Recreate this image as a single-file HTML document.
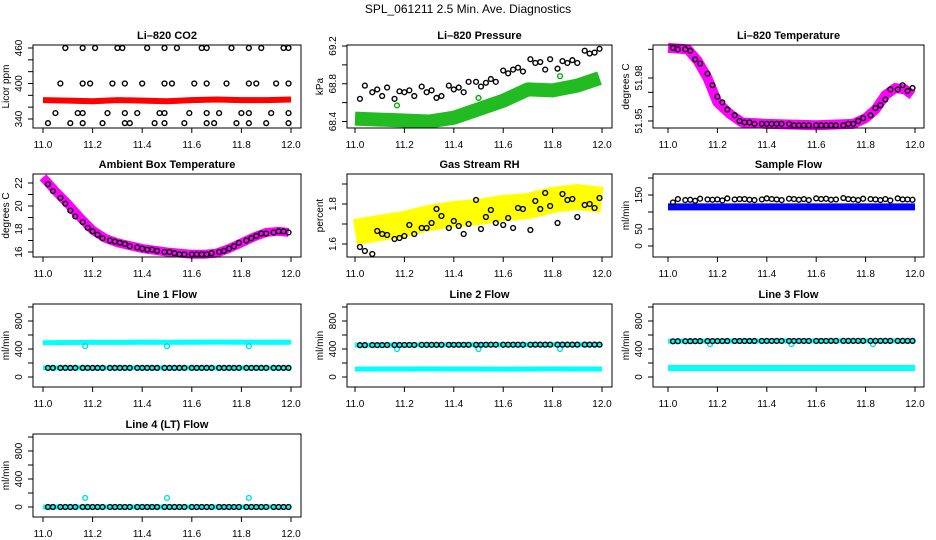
<!DOCTYPE html>
<html><head><meta charset="utf-8"><style>
body{margin:0;background:#fff}
svg{display:block;font-family:"Liberation Sans",Arial,sans-serif}
</style></head><body>
<svg id="c" width="936" height="540" viewBox="0 0 936 540" xmlns="http://www.w3.org/2000/svg">
<rect width="936" height="540" fill="#fff"/>
<text x="468" y="13" text-anchor="middle" font-size="12">SPL_061211  2.5 Min. Ave. Diagnostics</text>
</svg>
<script>
// shared time grid for black points
const T = [11.02,11.04,11.07,11.09,11.11,11.13,11.16,11.18,11.20,11.22,11.24,11.27,11.29,11.31,11.33,11.35,11.38,11.40,11.42,11.44,11.46,11.49,11.51,11.53,11.55,11.57,11.60,11.62,11.64,11.66,11.68,11.71,11.73,11.75,11.77,11.79,11.82,11.84,11.86,11.88,11.90,11.93,11.95,11.97,11.99];
const xTicks = [11.0,11.2,11.4,11.6,11.8,12.0];
const xTickLabels = ["11.0","11.2","11.4","11.6","11.8","12.0"];
// CO2
const co2Times = [11.09,11.16,11.21,11.30,11.32,11.42,11.49,11.54,11.64,11.66,11.76,11.83,11.88,11.97,11.99, 11.07,11.16,11.19,11.28,11.33,11.40,11.49,11.52,11.61,11.66,11.74,11.83,11.86,11.94,11.99, 11.05,11.14,11.16,11.26,11.33,11.38,11.47,11.49,11.59,11.66,11.71,11.80,11.83,11.92,11.99, 11.02,11.11,11.16,11.24,11.33,11.35,11.45,11.49,11.57,11.66,11.69,11.78,11.83,11.90,11.99];
const co2Vals = [460,460,460,460,460,460,460,460,460,460,460,460,460,460,460, 400,400,400,400,400,400,400,400,400,400,400,400,400,400,400, 350,350,350,350,350,350,350,350,350,350,350,350,350,350,350, 333,333,333,333,333,333,333,333,333,333,333,333,333,333,333];
const bandTimes = [11.0,11.1,11.2,11.3,11.4,11.5,11.6,11.7,11.8,11.9,12.0];
const co2Red = [372,371,370,372,371,370,372,373,372,372,373];
// Pressure
const presBlack = [68.64,68.78,68.71,68.74,68.67,68.76,68.64,68.72,68.71,68.73,68.67,68.77,68.71,68.73,68.65,68.67,68.78,68.74,68.76,68.71,68.82,68.82,68.77,68.81,68.85,68.82,68.94,68.91,68.95,68.97,68.93,69.06,69.02,69.03,68.95,69.06,68.96,69.04,69.02,69.05,69.02,69.15,69.12,69.13,69.17];
const presGreenTimes = [11.0,11.1,11.2,11.3,11.4,11.5,11.6,11.7,11.8,11.9,11.99];
const presGreen = [68.43,68.42,68.41,68.40,68.44,68.53,68.62,68.74,68.73,68.78,68.86];
const presOutT = [11.17,11.5,11.83];
const presOut = [68.57,68.65,68.88];
// Li-820 temperature
const tempBandTimes = [11.0,11.08,11.12,11.16,11.2,11.25,11.3,11.4,11.6,11.75,11.8,11.84,11.88,11.92,11.96,11.99];
const tempMag = [52.001,52.0,51.992,51.980,51.963,51.955,51.949,51.948,51.947,51.948,51.952,51.958,51.968,51.973,51.972,51.968];
const tempBlack = [52.001,52.0,52.0,51.999,51.993,51.990,51.983,51.975,51.967,51.963,51.958,51.954,51.950,51.949,51.949,51.948,51.948,51.948,51.948,51.948,51.948,51.948,51.947,51.947,51.947,51.947,51.947,51.947,51.947,51.947,51.947,51.947,51.948,51.948,51.950,51.952,51.954,51.959,51.961,51.965,51.972,51.972,51.975,51.971,51.973];
// Ambient
const ambBandTimes = [11.0,11.05,11.1,11.15,11.2,11.25,11.3,11.4,11.5,11.6,11.65,11.7,11.75,11.8,11.85,11.9,11.95,11.99];
const ambMag = [22.5,21.3,20.2,19.0,17.9,17.2,16.8,16.3,16.0,15.8,15.8,15.9,16.3,16.8,17.3,17.7,17.8,17.7];
const ambBlack = [21.9,21.3,20.7,20.2,19.6,19.1,18.6,18.1,17.8,17.5,17.2,17.0,16.9,16.8,16.7,16.5,16.4,16.3,16.2,16.2,16.1,16.0,16.0,15.9,15.8,15.8,15.8,15.8,15.8,15.8,15.9,16.0,16.1,16.3,16.5,16.8,17.0,17.2,17.4,17.6,17.6,17.7,17.8,17.8,17.7];
// RH
const rhYellow = [1.66,1.68,1.70,1.73,1.75,1.76,1.78,1.79,1.82,1.835,1.82];
const rhBlack = [1.585,1.565,1.55,1.665,1.65,1.645,1.625,1.63,1.64,1.695,1.65,1.68,1.68,1.705,1.775,1.74,1.68,1.715,1.69,1.65,1.70,1.82,1.675,1.735,1.77,1.705,1.695,1.73,1.68,1.78,1.775,1.67,1.815,1.775,1.855,1.79,1.705,1.85,1.82,1.825,1.735,1.795,1.80,1.78,1.83];
// Sample flow
const sampleBlue = [115,115,115,115,115,115,115,115,115,115,115];
const sampleBlack = [128,138,135,136,133,139,137,136,137,134,140,137,138,138,136,135,137,140,138,137,135,139,138,136,138,135,140,138,139,136,137,141,138,137,135,139,138,137,135,138,134,140,137,137,136];
// Line flows
const line1Cyan = [490,492,495,495,496,494,497,498,497,495,496];
const line1Low = [130,130,130,130,130,130,130,130,130,130,130];
const line1Black = [130,130,130,130,130,130,130,130,130,130,130,130,130,130,130,130,130,130,130,130,130,130,130,130,130,130,130,130,130,130,130,130,130,130,130,130,130,130,130,130,130,130,130,130,130];
const line2Cyan = [112,114,115,116,114,115,113,115,116,115,114];
const line2High = [455,456,458,459,460,460,461,461,462,462,462];
const line2Black = [455,455,456,456,456,457,457,457,458,458,458,459,459,459,459,460,460,460,460,460,460,460,460,461,461,461,461,461,461,461,461,461,462,462,462,462,462,462,462,462,462,462,462,462,462];
const line3Cyan = [128,128,128,128,128,128,128,128,128,128,128];
const line3High = [510,512,513,514,515,515,515,516,516,516,516];
const line3Black = [510,511,511,512,512,512,513,513,513,513,514,514,514,514,514,514,515,515,515,515,515,515,515,515,515,515,515,515,515,516,516,516,516,516,516,516,516,516,516,516,516,516,516,516,516];
const line4Cyan = [0,0,0,0,0,0,0,0,0,0,0];
const line4Black = [0,0,0,0,0,0,0,0,0,0,0,0,0,0,0,0,0,0,0,0,0,0,0,0,0,0,0,0,0,0,0,0,0,0,0,0,0,0,0,0,0,0,0,0,0];
const flowOutT = [11.17,11.5,11.83];
const line1Out = [440,440,440];
const line2Out = [400,400,400];
const line3Out = [470,470,470];
const line4Out = [130,130,130];

const NS = "http://www.w3.org/2000/svg";
const svg = document.getElementById('c');
function mk(tag, attrs, parent){const e=document.createElementNS(NS,tag);for(const k in attrs)e.setAttribute(k,attrs[k]);(parent||svg).appendChild(e);return e;}

function panel(name, title, ytitle, box, x11, x12, yRef, yTicks, yLabels){
  const g = mk('g',{});
  
  
  const sx = t => x11 + (t-11)*(x12-x11);
  const sy = v => yRef[1] + (v-yRef[0])*(yRef[3]-yRef[1])/(yRef[2]-yRef[0]);
  const plot = mk('g',{},g);
  
  
  const bx = mk('rect',{x:box[0],y:box[1],width:box[2]-box[0],height:box[3]-box[1],fill:'none',stroke:'#000','stroke-width':1},g);
  
  
  const tt = mk('text',{x:(box[0]+box[2])/2,y:box[1]-6,'text-anchor':'middle','font-size':11,'font-weight':'bold'},g);
  tt.textContent = title;
  
  
  const xa = mk('g',{},g);
  
  
  xTicks.forEach((t,i)=>{
    mk('line',{x1:sx(t),x2:sx(t),y1:box[3],y2:box[3]+5,stroke:'#000'},xa);
    const l = mk('text',{x:sx(t),y:box[3]+20,'text-anchor':'middle','font-size':10},xa);
    l.textContent = xTickLabels[i];
  });
  const ya = mk('g',{},g);
  
  
  yTicks.forEach(v=>{ mk('line',{x1:box[0]-5,x2:box[0],y1:sy(v),y2:sy(v),stroke:'#000'},ya); });
  yLabels.forEach(v=>{
    const lx = box[0]-11;
    const l = mk('text',{x:lx,y:sy(v),'text-anchor':'middle','font-size':10,transform:`rotate(-90 ${lx} ${sy(v)})`},ya);
    l.textContent = String(v);
  });
  const ytx = box[0]-24;
  const yt = mk('text',{x:ytx,y:(box[1]+box[3])/2,'text-anchor':'middle','font-size':10,transform:`rotate(-90 ${ytx} ${(box[1]+box[3])/2})`},g);
  yt.textContent = ytitle;
  
  
  return {sx,sy,plot};
}
function band(p, times, vals, color, w, nm){
  const pl = mk('polyline',{points:times.map((t,i)=>p.sx(t)+','+p.sy(vals[i])).join(' '),fill:'none',stroke:color,'stroke-width':w,'stroke-linejoin':'round','stroke-linecap':'butt'},p.plot);
  
  
}
function pts(p, times, vals, color, nm){
  const g = mk('g',{},p.plot);
  
  
  times.forEach((t,i)=>{ mk('circle',{cx:p.sx(t),cy:p.sy(vals[i]),r:2.4,fill:'none',stroke:color,'stroke-width':1.4},g); });
}
const C1=[33,301,43,291], C2=[347,612,355,602], C3=[653,924,668,915];
const R1=[45,128], R2=[174,257], R3=[304,387], R4=[434,517];

let p = panel('co2-panel','Li\u2013820 CO2','Licor ppm',[C1[0],R1[0],C1[1],R1[1]],C1[2],C1[3],[340,119,460,48],[340,360,380,400,420,440,460],[340,400,460]);
band(p,bandTimes,co2Red,'#ff0000',6,'co2-red-series');
pts(p,co2Times,co2Vals,'#000','co2-black-points');

p = panel('pressure-panel','Li\u2013820 Pressure','kPa',[C2[0],R1[0],C2[1],R1[1]],C2[2],C2[3],[68.4,121.5,69.2,46],[68.4,68.6,68.8,69.0,69.2],[68.4,68.8,69.2]);
band(p,presGreenTimes,presGreen,'#22bb22',14,'pressure-green-series');
pts(p,presOutT,presOut,'#00b000','pressure-green-outliers');
pts(p,T,presBlack,'#000','pressure-black-points');

p = panel('temperature-panel','Li\u2013820 Temperature','degrees C',[C3[0],R1[0],C3[1],R1[1]],C3[2],C3[3],[51.95,121,51.98,78],[51.95,51.96,51.97,51.98,52.0],[51.95,51.98]);
band(p,tempBandTimes,tempMag,'#ff00ff',10,'temperature-magenta-series');
pts(p,T,tempBlack,'#000','temperature-black-points');

p = panel('ambient-panel','Ambient Box Temperature','degrees C',[C1[0],R2[0],C1[1],R2[1]],C1[2],C1[3],[16,252,22,183],[16,17,18,19,20,21,22],[16,18,20,22]);
band(p,ambBandTimes,ambMag,'#ff00ff',9,'ambient-magenta-series');
pts(p,T,ambBlack,'#000','ambient-black-points');

p = panel('rh-panel','Gas Stream RH','percent',[C2[0],R2[0],C2[1],R2[1]],C2[2],C2[3],[1.6,244,1.8,204],[1.6,1.7,1.8,1.9],[1.6,1.8]);
band(p,bandTimes,rhYellow,'#ffff00',26,'rh-yellow-series');
pts(p,T,rhBlack,'#000','rh-black-points');

p = panel('sample-flow-panel','Sample Flow','ml/min',[C3[0],R2[0],C3[1],R2[1]],C3[2],C3[3],[0,246,150,195],[0,50,100,150,200],[0,50,150]);
band(p,bandTimes,sampleBlue,'#0000ff',7,'sample-blue-series');
pts(p,T,sampleBlack,'#000','sample-black-points');

p = panel('line1-panel','Line 1 Flow','ml/min',[C1[0],R3[0],C1[1],R3[1]],C1[2],C1[3],[0,377,800,321],[0,200,400,600,800,1000],[0,400,800]);
band(p,bandTimes,line1Cyan,'#00ffff',5,'line1-cyan-series');
band(p,bandTimes,line1Low,'#00ffff',5,'line1-cyan-low-series');
pts(p,flowOutT,line1Out,'#00e0e0','line1-cyan-outliers');
pts(p,T,line1Black,'#000','line1-black-points');

p = panel('line2-panel','Line 2 Flow','ml/min',[C2[0],R3[0],C2[1],R3[1]],C2[2],C2[3],[0,377,800,321],[0,200,400,600,800,1000],[0,400,800]);
band(p,bandTimes,line2Cyan,'#00ffff',5,'line2-cyan-series');
band(p,bandTimes,line2High,'#00ffff',5,'line2-cyan-high-series');
pts(p,flowOutT,line2Out,'#00e0e0','line2-cyan-outliers');
pts(p,T,line2Black,'#000','line2-black-points');

p = panel('line3-panel','Line 3 Flow','ml/min',[C3[0],R3[0],C3[1],R3[1]],C3[2],C3[3],[0,377,800,321],[0,200,400,600,800,1000],[0,400,800]);
band(p,bandTimes,line3Cyan,'#00ffff',6,'line3-cyan-series');
band(p,bandTimes,line3High,'#00ffff',5,'line3-cyan-high-series');
pts(p,flowOutT,line3Out,'#00e0e0','line3-cyan-outliers');
pts(p,T,line3Black,'#000','line3-black-points');

p = panel('line4-panel','Line 4 (LT) Flow','ml/min',[C1[0],R4[0],C1[1],R4[1]],C1[2],C1[3],[0,507,800,451],[0,200,400,600,800,1000],[0,400,800]);
band(p,bandTimes,line4Cyan,'#00ffff',5,'line4-cyan-series');
pts(p,flowOutT,line4Out,'#00e0e0','line4-cyan-outliers');
pts(p,T,line4Black,'#000','line4-black-points');
</script>
</body></html>
